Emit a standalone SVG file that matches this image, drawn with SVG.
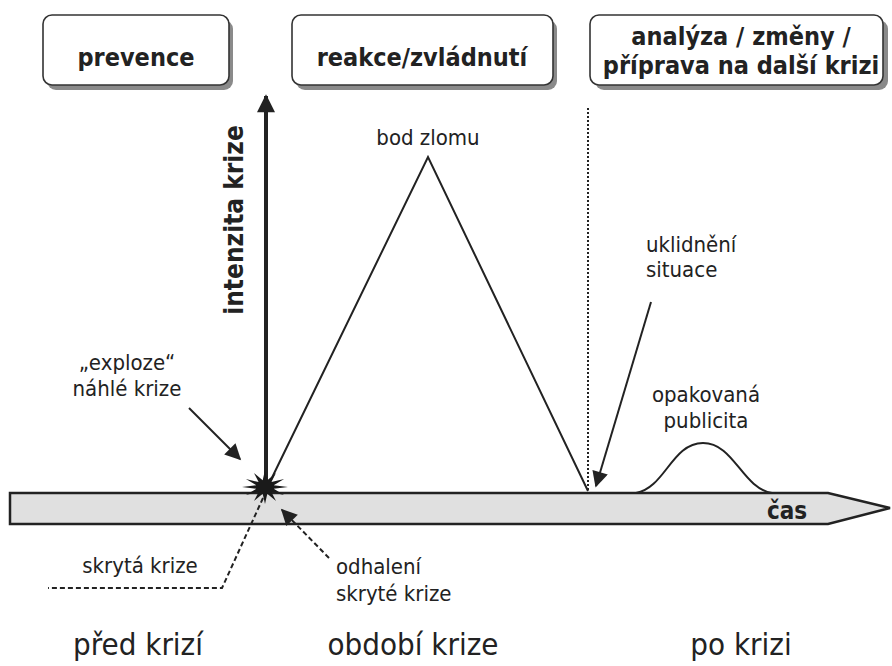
<svg xmlns="http://www.w3.org/2000/svg" width="892" height="666" viewBox="0 0 892 666">
<defs>
<style>
.t{font-family:"DejaVu Sans Condensed","DejaVu Sans","Liberation Sans",sans-serif;font-stretch:condensed;fill:#222}
.b{font-weight:bold}
.box{fill:#fff;stroke:#333;stroke-width:1.6}
.sh{fill:#8a8a8a}
.ln{stroke:#222;fill:none}
.lab{font-size:22px}
.big{font-size:31px}
.bx{font-size:25px;font-weight:bold}
</style>
<marker id="arr" viewBox="0 0 10 10" refX="9" refY="5" markerWidth="22" markerHeight="16" markerUnits="userSpaceOnUse" orient="auto">
<path d="M0,0 L10,5 L0,10 z" fill="#222"/>
</marker>
<marker id="arrBig" viewBox="0 0 10 10" refX="9" refY="5" markerWidth="24" markerHeight="18" markerUnits="userSpaceOnUse" orient="auto">
<path d="M0,0 L10,5 L0,10 z" fill="#222"/>
</marker>
</defs>
<rect width="892" height="666" fill="#fff"/>

<g id="box-prevence">
<rect class="sh" x="47" y="20" width="186" height="70" rx="9"/>
<rect class="box" x="43" y="15" width="186" height="70" rx="9"/>
<text class="t bx" x="136" y="66" text-anchor="middle">prevence</text>
</g>
<g id="box-reakce">
<rect class="sh" x="296" y="20" width="261" height="70" rx="9"/>
<rect class="box" x="292" y="15" width="261" height="70" rx="9"/>
<text class="t bx" x="422" y="66" text-anchor="middle">reakce/zvládnutí</text>
</g>
<g id="box-analyza">
<rect class="sh" x="595" y="20" width="293" height="70" rx="9"/>
<rect class="box" x="590" y="15" width="293" height="70" rx="9"/>
<text class="t bx" x="741" y="45" text-anchor="middle">analýza / změny /</text>
<text class="t bx" x="741" y="74" text-anchor="middle" font-size="24">příprava na další krizi</text>
</g>

<g id="timeline">
<path d="M10,493 L828,493 L890,508 L828,524 L10,524 Z" fill="#e0e0e0" stroke="#222" stroke-width="2.5"/>
<text class="t b" x="787" y="519" font-size="24" text-anchor="middle">čas</text>
</g>

<g id="axis">
<line class="ln" x1="266" y1="490" x2="266" y2="96" stroke-width="4" marker-end="url(#arrBig)"/>
<text class="t b" font-size="26" text-anchor="middle" transform="translate(243,220) rotate(-90)">intenzita krize</text>
</g>

<g id="connectors">
<polyline class="ln" points="266,490 428,157 588,491" stroke-width="2"/>
<line class="ln" x1="588" y1="108" x2="588" y2="490" stroke-width="2" stroke-dasharray="2,2"/>
<path class="ln" d="M636,493 C665,488 672,443 703,443 C734,443 742,488 772,493" stroke-width="2"/>
<line class="ln" x1="651" y1="302" x2="596" y2="486" stroke-width="2" marker-end="url(#arr)"/>
<line class="ln" x1="189" y1="408" x2="240" y2="459" stroke-width="2" marker-end="url(#arr)"/>
<polyline class="ln" points="263,498 222,588 48,588" stroke-width="2" stroke-dasharray="5,3"/>
<line class="ln" x1="329" y1="558" x2="282" y2="510" stroke-width="2" stroke-dasharray="5,3" marker-end="url(#arr)"/>
</g>

<g id="explosion">
<polygon fill="#1a1a1a" points="288,487 273.7,488.8 284.1,495 271.4,492 276,501 267.3,493.8 265,504 262.7,493.8 254,501 258.6,492 245.9,495 256.3,488.8 242,487 256.3,485.2 245.9,479 258.6,482 254,473 262.7,480.2 265,470 267.3,480.2 276,473 271.4,482 284.1,479 273.7,485.2"/>
</g>

<g id="labels">
<text class="t lab" x="428" y="145" text-anchor="middle">bod zlomu</text>
<text class="t lab" x="646" y="252">uklidnění</text>
<text class="t lab" x="646" y="277">situace</text>
<text class="t lab" x="706" y="402" text-anchor="middle">opakovaná</text>
<text class="t lab" x="706" y="428" text-anchor="middle">publicita</text>
<text class="t lab" x="127" y="370" text-anchor="middle">„exploze“</text>
<text class="t lab" x="127" y="396" text-anchor="middle">náhlé krize</text>
<text class="t lab" x="140" y="573" text-anchor="middle">skrytá krize</text>
<text class="t lab" x="336" y="574">odhalení</text>
<text class="t lab" x="336" y="601">skryté krize</text>
<text class="t big" x="138" y="655" text-anchor="middle">před krizí</text>
<text class="t big" x="413" y="655" text-anchor="middle">období krize</text>
<text class="t big" x="741" y="655" text-anchor="middle">po krizi</text>
</g>
</svg>
